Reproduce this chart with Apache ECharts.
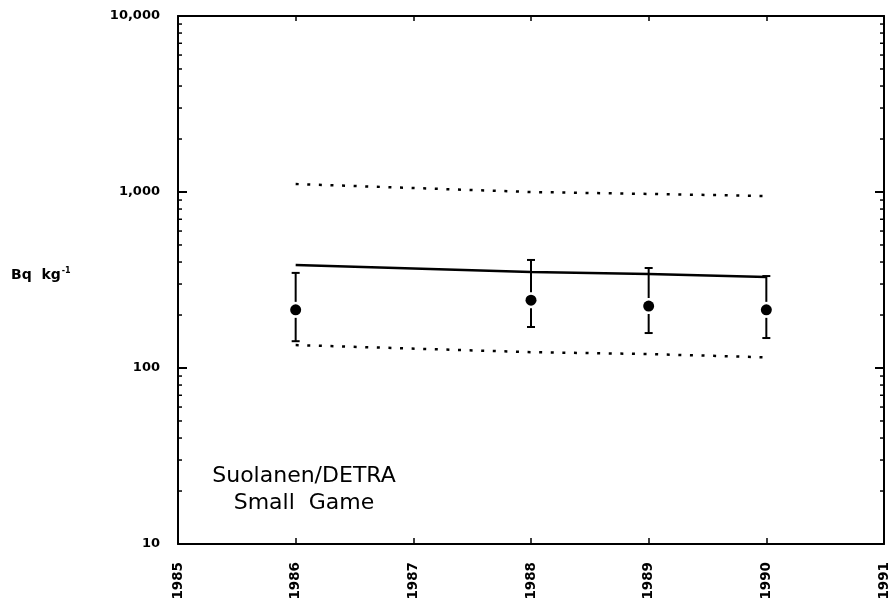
<!DOCTYPE html>
<html>
<head>
<meta charset="utf-8">
<script src="https://cdn.jsdelivr.net/npm/echarts@6/dist/echarts.min.js"></script>
<style>
html, body { margin: 0; padding: 0; background: #fff; }
#chart { width: 891px; height: 603px; }
</style>
</head>
<body>
<div id="chart"></div>
<script>
// measured points (mean with error bars)
var YEARS = [1986, 1988, 1989, 1990];
var MEAN = [214, 243, 225, 214];
var ERR_LOW = [142, 171, 158, 148];
var ERR_HIGH = [347, 411, 370, 333];

// model prediction and its bounds
var MODEL_YEARS = [1986, 1988, 1989, 1990];
var MODEL_MID = [385, 351, 342, 329];
var MODEL_UPPER = [1110, 1000, 975, 949];
var MODEL_LOWER = [135, 123, 120, 115];

var MINOR_TICKS = [20, 30, 40, 50, 60, 70, 80, 90,
	200, 300, 400, 500, 600, 700, 800, 900,
	2000, 3000, 4000, 5000, 6000, 7000, 8000, 9000];

var FONT = 'DejaVu Sans';

function pairs(xs, ys) {
	return xs.map(function (x, i) { return [x, ys[i]]; });
}

function fmtY(v) {
	v = Math.round(v);
	return v >= 1000 ? v.toLocaleString('en-US') : String(v);
}

var chart = echarts.init(document.getElementById('chart'));

var axisLine = { show: true, lineStyle: { color: '#000', width: 2 } };

var option = {
	animation: false,
	backgroundColor: '#fff',
	grid: { left: 178, right: 5, top: 16, bottom: 59 },
	xAxis: [{
		type: 'value', min: 1985, max: 1991, interval: 1,
		axisLine: axisLine,
		axisTick: { inside: true, length: 6, lineStyle: { color: '#000', width: 1.5 } },
		splitLine: { show: false },
		axisLabel: {
			rotate: 90, margin: 18, color: '#000',
			fontFamily: FONT, fontWeight: 'bold', fontSize: 13.5,
			formatter: function (v) { return String(v); }
		}
	}, {
		type: 'value', position: 'top', min: 1985, max: 1991, interval: 1,
		axisLine: axisLine,
		axisTick: { inside: true, length: 5, lineStyle: { color: '#000', width: 1.5 } },
		splitLine: { show: false },
		axisLabel: { show: false }
	}],
	yAxis: [{
		type: 'log', logBase: 10, min: 10, max: 10000,
		axisLine: axisLine,
		axisTick: { inside: true, length: 9, lineStyle: { color: '#000', width: 2 } },
		splitLine: { show: false },
		axisLabel: {
			margin: 18, color: '#000',
			fontFamily: FONT, fontWeight: 'bold', fontSize: 13,
			formatter: fmtY
		}
	}, {
		type: 'log', logBase: 10, min: 10, max: 10000, position: 'right',
		axisLine: axisLine,
		axisTick: { inside: true, length: 9, lineStyle: { color: '#000', width: 2 } },
		splitLine: { show: false },
		axisLabel: { show: false }
	}],
	graphic: [{
		type: 'text', left: 11, top: 267,
		style: {
			text: '{b|Bq  kg}{s|-1}',
			rich: {
				b: { fontFamily: FONT, fontWeight: 'bold', fontSize: 14, fill: '#000' },
				s: { fontFamily: FONT, fontWeight: 'bold', fontSize: 8, fill: '#000', verticalAlign: 'top', padding: [0, 0, 8, 1] }
			}
		}
	}, {
		type: 'text', x: 304, y: 463,
		style: {
			text: 'Suolanen/DETRA\nSmall  Game',
			align: 'center',
			fontFamily: FONT, fontSize: 22, lineHeight: 27, fill: '#000'
		}
	}],
	series: [{
		name: 'model upper', type: 'line', symbol: 'none',
		data: pairs(MODEL_YEARS, MODEL_UPPER),
		lineStyle: { color: '#000', width: 2.5, type: [3, 8.6] }
	}, {
		name: 'model lower', type: 'line', symbol: 'none',
		data: pairs(MODEL_YEARS, MODEL_LOWER),
		lineStyle: { color: '#000', width: 2.5, type: [3, 8.6] }
	}, {
		name: 'model', type: 'line', symbol: 'none',
		data: pairs(MODEL_YEARS, MODEL_MID),
		lineStyle: { color: '#000', width: 2.5 }
	}, {
		name: 'error bars', type: 'custom',
		data: YEARS.map(function (y, i) { return [y, ERR_LOW[i], ERR_HIGH[i], MEAN[i]]; }),
		encode: { x: 0, y: [1, 2] },
		renderItem: function (params, api) {
			var x = api.value(0);
			var lo = api.coord([x, api.value(1)]);
			var hi = api.coord([x, api.value(2)]);
			var mid = api.coord([x, api.value(3)]);
			var st = { stroke: '#000', lineWidth: 2 };
			var cap = 4;
			return {
				type: 'group',
				children: [
					{ type: 'line', shape: { x1: hi[0], y1: hi[1], x2: hi[0], y2: mid[1] - 8 }, style: st },
					{ type: 'line', shape: { x1: lo[0], y1: mid[1] + 8, x2: lo[0], y2: lo[1] }, style: st },
					{ type: 'line', shape: { x1: hi[0] - cap, y1: hi[1], x2: hi[0] + cap, y2: hi[1] }, style: st },
					{ type: 'line', shape: { x1: lo[0] - cap, y1: lo[1], x2: lo[0] + cap, y2: lo[1] }, style: st }
				]
			};
		},
		z: 3
	}, {
		name: 'mean', type: 'scatter', symbol: 'circle', symbolSize: 11,
		data: pairs(YEARS, MEAN),
		itemStyle: { color: '#000', opacity: 1 },
		z: 4
	}, {
		name: 'minor ticks', type: 'custom',
		data: MINOR_TICKS.map(function (v) { return [1985, v]; }),
		encode: { x: 0, y: 1 },
		clip: false,
		renderItem: function (params, api) {
			var v = api.value(1);
			var l = api.coord([1985, v]);
			var r = api.coord([1991, v]);
			var st = { stroke: '#000', lineWidth: 1.5 };
			return {
				type: 'group',
				children: [
					{ type: 'line', shape: { x1: l[0], y1: l[1], x2: l[0] + 4, y2: l[1] }, style: st },
					{ type: 'line', shape: { x1: r[0], y1: r[1], x2: r[0] - 4, y2: r[1] }, style: st }
				]
			};
		}
	}]
};

chart.setOption(option);
</script>
</body>
</html>
